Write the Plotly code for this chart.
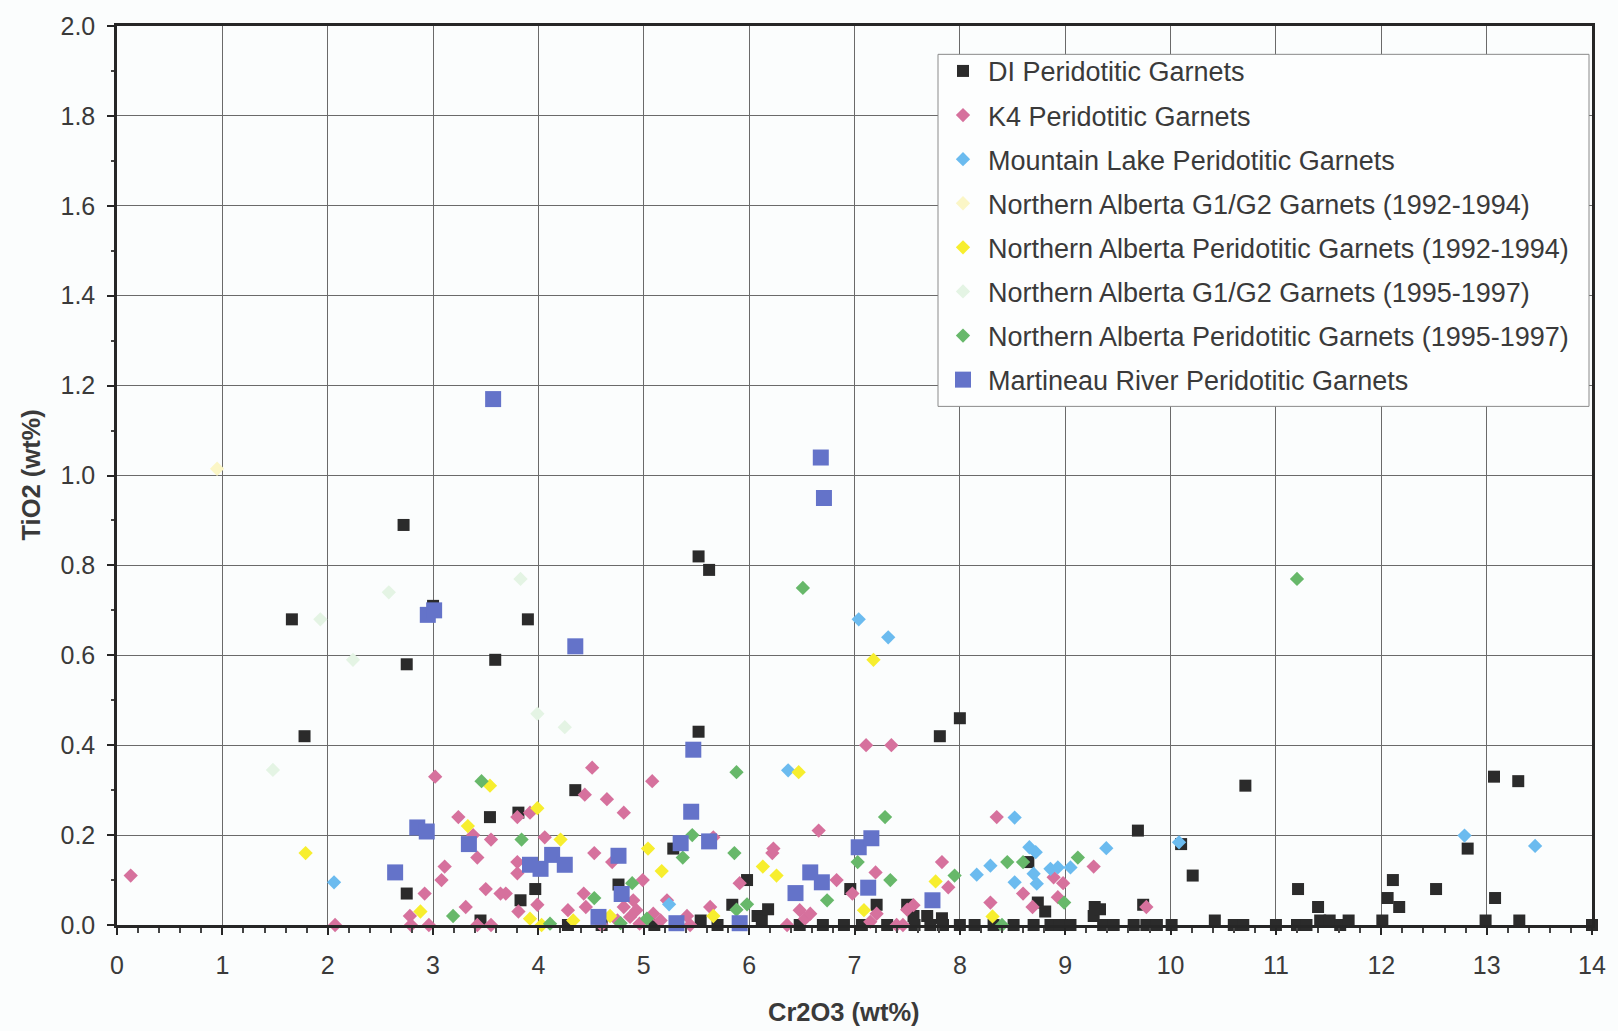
import plotly.graph_objects as go

# ---- data: Cr2O3 (wt%) vs TiO2 (wt%) for each garnet population ----
di_cr = [1.66, 1.78, 2.72, 2.75, 3.00, 3.59, 3.90, 4.35, 3.54, 3.81, 2.75, 3.45, 3.97, 3.83,
         4.28, 4.60, 4.76, 5.10, 5.28, 5.30, 5.52, 5.62, 5.52, 5.54, 5.70, 5.84, 5.98, 6.08,
         6.12, 6.18, 6.48, 6.70, 6.90, 6.96, 7.07, 7.21, 7.50, 7.56, 7.69, 7.81, 7.83, 8.00,
         7.31, 7.57, 7.72, 7.84, 8.00, 8.14, 8.32, 8.51, 8.65, 8.70, 8.74, 8.81, 8.86, 8.95,
         9.05, 9.27, 9.28, 9.33, 9.36, 9.46, 9.65, 9.69, 9.74, 9.77, 9.87, 10.01, 10.10, 10.21,
         10.42, 10.60, 10.69, 10.71, 11.00, 11.21, 11.20, 11.29, 11.40, 11.42, 11.51, 11.61,
         11.69, 12.01, 12.06, 12.11, 12.17, 12.52, 12.82, 12.99, 13.07, 13.08, 13.30, 13.31,
         14.00]
di_ti = [0.68, 0.42, 0.89, 0.58, 0.71, 0.59, 0.68, 0.30, 0.24, 0.25, 0.07, 0.01, 0.08, 0.055,
         0.00, 0.00, 0.09, 0.00, 0.17, 0.00, 0.82, 0.79, 0.43, 0.01, 0.00, 0.045, 0.10, 0.02,
         0.01, 0.035, 0.00, 0.00, 0.00, 0.08, 0.00, 0.045, 0.045, 0.02, 0.02, 0.42, 0.015, 0.46,
         0.00, 0.00, 0.00, 0.00, 0.00, 0.00, 0.00, 0.00, 0.14, 0.00, 0.05, 0.03, 0.00, 0.00,
         0.00, 0.02, 0.04, 0.035, 0.00, 0.00, 0.00, 0.21, 0.045, 0.00, 0.00, 0.00, 0.18, 0.11,
         0.01, 0.00, 0.00, 0.31, 0.00, 0.08, 0.00, 0.00, 0.04, 0.01, 0.01, 0.00,
         0.01, 0.01, 0.06, 0.10, 0.04, 0.08, 0.17, 0.01, 0.33, 0.06, 0.32, 0.01,
         0.00]

k4_cr = [0.13, 2.07, 2.78, 2.79, 2.92, 2.96, 3.02, 3.08, 3.11, 3.24, 3.31, 3.38, 3.42, 3.42,
         3.50, 3.55, 3.55, 3.64, 3.69, 3.80, 3.80, 3.80, 3.81, 3.92, 3.99, 4.06, 4.28, 4.43,
         4.44, 4.45, 4.51, 4.53, 4.60, 4.65, 4.70, 4.75, 4.81, 4.81, 4.87, 4.90, 4.93, 4.96,
         4.99, 5.08, 5.09, 5.16, 5.22, 5.41, 5.44, 5.63, 5.66, 5.91, 6.22, 6.23, 6.36, 6.48,
         6.53, 6.58, 6.66, 6.83, 6.98, 7.11, 7.15, 7.20, 7.21, 7.35, 7.40, 7.46, 7.50, 7.56,
         7.83, 7.89, 8.29, 8.35, 8.60, 8.69, 8.89, 8.93, 8.98, 9.27, 9.77]
k4_ti = [0.11, 0.00, 0.02, 0.00, 0.07, 0.00, 0.33, 0.10, 0.13, 0.24, 0.04, 0.20, 0.15, 0.00,
         0.08, 0.19, 0.00, 0.07, 0.07, 0.24, 0.14, 0.115, 0.03, 0.25, 0.045, 0.195, 0.033, 0.07,
         0.29, 0.04, 0.35, 0.16, 0.00, 0.28, 0.14, 0.01, 0.25, 0.04, 0.018, 0.055, 0.033, 0.003,
         0.10, 0.32, 0.025, 0.01, 0.055, 0.02, 0.00, 0.04, 0.195, 0.093, 0.16, 0.17, 0.00, 0.033,
         0.014, 0.025, 0.21, 0.10, 0.07, 0.40, 0.007, 0.117, 0.025, 0.40, 0.00, 0.00, 0.034, 0.044,
         0.14, 0.084, 0.05, 0.24, 0.07, 0.04, 0.106, 0.062, 0.093, 0.13, 0.04]

ml_cr = [2.06, 5.24, 6.37, 7.04, 7.32, 8.16, 8.29, 8.52, 8.52, 8.66, 8.72, 8.70, 8.73, 8.86,
         8.93, 9.05, 9.39, 10.08, 12.79, 13.46]
ml_ti = [0.095, 0.046, 0.344, 0.68, 0.64, 0.112, 0.132, 0.239, 0.095, 0.173, 0.162, 0.114,
         0.092, 0.125, 0.128, 0.128, 0.171, 0.184, 0.199, 0.176]

nag_9294_cr = [0.95]
nag_9294_ti = [1.015]

nap_9294_cr = [1.79, 2.88, 3.33, 3.54, 3.92, 3.99, 4.03, 4.21, 4.33, 4.68, 5.04, 5.17, 5.66,
               6.13, 6.26, 6.47, 7.09, 7.18, 7.77, 8.31]
nap_9294_ti = [0.16, 0.03, 0.22, 0.31, 0.014, 0.26, 0.00, 0.19, 0.01, 0.02, 0.17, 0.12, 0.02,
               0.13, 0.11, 0.34, 0.033, 0.59, 0.097, 0.019]

nag_9597_cr = [1.48, 1.93, 2.24, 2.58, 3.83, 3.99, 4.25]
nag_9597_ti = [0.345, 0.68, 0.59, 0.74, 0.77, 0.47, 0.44]

nap_9597_cr = [3.19, 3.46, 3.84, 4.11, 4.53, 4.78, 4.89, 5.03, 5.37, 5.46, 5.86, 5.88, 5.88,
               5.98, 6.51, 6.74, 7.03, 7.29, 7.34, 7.95, 8.40, 8.45, 8.60, 8.99, 9.12, 11.20]
nap_9597_ti = [0.02, 0.32, 0.19, 0.003, 0.06, 0.004, 0.093, 0.014, 0.15, 0.20, 0.16, 0.34, 0.034,
               0.046, 0.75, 0.055, 0.14, 0.24, 0.10, 0.11, 0.00, 0.14, 0.14, 0.05, 0.15, 0.77]

mr_cr = [2.64, 2.85, 2.94, 2.95, 3.01, 3.34, 3.57, 3.92, 4.02, 4.13, 4.25, 4.35, 4.57, 4.76,
         4.79, 5.31, 5.35, 5.45, 5.47, 5.62, 5.91, 6.44, 6.58, 6.68, 6.69, 6.71, 7.04, 7.13,
         7.16, 7.74]
mr_ti = [0.117, 0.217, 0.208, 0.69, 0.70, 0.18, 1.17, 0.134, 0.125, 0.156, 0.134, 0.62, 0.018,
         0.154, 0.069, 0.004, 0.182, 0.252, 0.39, 0.186, 0.004, 0.071, 0.117, 1.04, 0.095, 0.95,
         0.173, 0.083, 0.193, 0.055]

x_ticks = list(range(0, 15))
y_ticks = [round(0.2 * i, 1) for i in range(11)]

FONT = "Liberation Sans, Arial, sans-serif"
TEXT = "#3a3a3a"

series = [
    ("DI Peridotitic Garnets", di_cr, di_ti, "square", 12, "#2b2b2b"),
    ("K4 Peridotitic Garnets", k4_cr, k4_ti, "diamond", 11, "#d6719d"),
    ("Mountain Lake Peridotitic Garnets", ml_cr, ml_ti, "diamond", 11, "#6bbbef"),
    ("Northern Alberta G1/G2 Garnets (1992-1994)", nag_9294_cr, nag_9294_ti, "diamond", 11, "#fbf6c6"),
    ("Northern Alberta Peridotitic Garnets (1992-1994)", nap_9294_cr, nap_9294_ti, "diamond", 11, "#f7ee2e"),
    ("Northern Alberta G1/G2 Garnets (1995-1997)", nag_9597_cr, nag_9597_ti, "diamond", 11, "#e4f4e4"),
    ("Northern Alberta Peridotitic Garnets (1995-1997)", nap_9597_cr, nap_9597_ti, "diamond", 11, "#67b86a"),
    ("Martineau River Peridotitic Garnets", mr_cr, mr_ti, "square", 16, "#6473c9"),
]

fig = go.Figure()
for i, (name, xs, ys, sym, size, color) in enumerate(series):
    fig.add_trace(go.Scatter(
        x=xs, y=ys, mode="markers", name=name, cliponaxis=False,
        legendgroup=f"g{i}",
        marker=dict(symbol=sym, size=size, color=color, line=dict(width=0)),
    ))

W, H = 1618, 1031
L, R, T, B = 117, 26, 21, 106
PW = W - L - R
PH = H - T - B

# legend frame (pixel box converted to paper coordinates)
box_x0, box_x1, box_y0, box_y1 = 938, 1589, 49.5, 403.5

fig.add_shape(
    type="rect", xref="paper", yref="paper", layer="above",
    x0=(box_x0 - L) / PW, x1=(box_x1 - L) / PW,
    y0=(H - B - box_y1) / PH, y1=(H - B - box_y0) / PH,
    line=dict(color="#8a8a8a", width=1), fillcolor="#fdfefe",
)

fig.update_layout(
    width=W, height=H,
    margin=dict(l=L, r=R, t=T, b=B),
    paper_bgcolor="#fbfdfd",
    plot_bgcolor="#fbfdfd",
    font=dict(family=FONT, size=25, color=TEXT),
    showlegend=True,
    legend=dict(
        x=(938 - L) / PW, y=(H - B - 42) / PH, xanchor="left", yanchor="top",
        bgcolor="rgba(0,0,0,0)", borderwidth=0,
        font=dict(family=FONT, size=27, color=TEXT),
        itemsizing="trace", itemwidth=40, tracegroupgap=6,
    ),
    xaxis=dict(
        range=[0, 14], tickvals=x_ticks, ticktext=[str(v) for v in x_ticks],
        showgrid=True, gridcolor="#6a6a6a", gridwidth=1,
        showline=True, linecolor="#262626", linewidth=2.5, mirror=True,
        ticks="outside", ticklen=7, tickcolor="#262626", tickwidth=1.5,
        minor=dict(dtick=0.2, ticks="outside", ticklen=5, tickcolor="#444", showgrid=False),
        zeroline=False, ticklabelstandoff=9,
        tickfont=dict(size=25, color=TEXT),
    ),
    yaxis=dict(
        range=[0, 2.0], tickvals=y_ticks, ticktext=[f"{v:.1f}" for v in y_ticks],
        showgrid=True, gridcolor="#6a6a6a", gridwidth=1,
        showline=True, linecolor="#262626", linewidth=2.5, mirror=True,
        ticks="outside", ticklen=7, tickcolor="#262626", tickwidth=1.5,
        minor=dict(dtick=0.1, ticks="outside", ticklen=3, tickcolor="#444", showgrid=False),
        zeroline=False, ticklabelstandoff=7,
        tickfont=dict(size=25, color=TEXT),
    ),
    annotations=[
        dict(text="<b>Cr2O3 (wt%)</b>", xref="paper", yref="paper",
             x=(844 - L) / PW, y=-(1012 - (H - B)) / PH,
             xanchor="center", yanchor="middle", showarrow=False,
             font=dict(family=FONT, size=25.5, color=TEXT)),
        dict(text="<b>TiO2 (wt%)</b>", xref="paper", yref="paper",
             x=(30 - L) / PW, y=0.5,
             xanchor="center", yanchor="middle", showarrow=False, textangle=-90,
             font=dict(family=FONT, size=25.5, color=TEXT)),
    ],
)

fig.write_html("out.html")
